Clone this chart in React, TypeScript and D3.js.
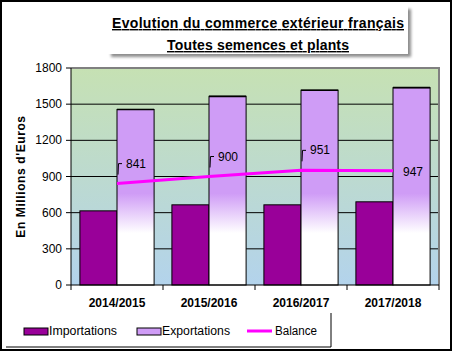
import * as d3 from "d3"

const years = ["2014/2015", "2015/2016", "2016/2017", "2017/2018"]
const importations = [615, 665, 665, 690]
const exportations = [1456, 1565, 1616, 1637]
const balance = [841, 900, 951, 947]
const yTicks = [0, 300, 600, 900, 1200, 1500, 1800]
const titleLines = ["Evolution du commerce extérieur français", "Toutes semences et plants"]
const legendItems = ["Importations", "Exportations", "Balance"]

const W = 454
const H = 353
const font = "'Liberation Sans', Arial, sans-serif"

const App = () => {
  const left = 71
  const right = 439
  const top = 68
  const bottom = 285

  const x = d3.scaleBand().domain(years).range([left, right]).padding(0)
  const sub = d3
    .scaleBand()
    .domain(["imp", "exp"])
    .range([0, x.bandwidth()])
    .paddingInner(0)
    .paddingOuter(0.24)
  const y = d3.scaleLinear().domain([0, 1800]).range([bottom, top])

  const cx = (d: string) => (x(d) as number) + x.bandwidth() / 2
  const line = d3
    .line<number>()
    .x((_, i) => cx(years[i]))
    .y((d) => y(d))

  // exports fade: purple on top, white lower down (plot coordinates)
  const fadeStart = (y(760) - top) / (bottom - top)
  const fadeEnd = (y(430) - top) / (bottom - top)

  return (
    <svg
      width={W}
      height={H}
      style={{ position: "absolute", left: 0, top: 0, background: "#fff" }}
      fontFamily={font}
    >
      <defs>
        <linearGradient id="bg" x1="0" y1="0" x2="0" y2="1">
          <stop offset="0" stopColor="#c6e1b3" />
          <stop offset="1" stopColor="#b3d3ec" />
        </linearGradient>
        <linearGradient id="exp" gradientUnits="userSpaceOnUse" x1="0" y1={top} x2="0" y2={bottom}>
          <stop offset="0" stopColor="#cf9cf6" />
          <stop offset={fadeStart} stopColor="#cf9cf6" />
          <stop offset={fadeEnd} stopColor="#ffffff" />
          <stop offset="1" stopColor="#ffffff" />
        </linearGradient>
        <filter id="shadow" x="-10%" y="-20%" width="130%" height="160%">
          <feGaussianBlur in="SourceAlpha" stdDeviation="1.5" />
          <feOffset dx="3" dy="3" />
          <feComponentTransfer>
            <feFuncA type="linear" slope="0.45" />
          </feComponentTransfer>
          <feMerge>
            <feMergeNode />
            <feMergeNode in="SourceGraphic" />
          </feMerge>
        </filter>
      </defs>

      <rect x={1} y={1} width={450} height={349} fill="#fff" stroke="#000" strokeWidth={2} />

      {/* title */}
      <rect x={108} y={6} width={300} height={48} fill="#fff" filter="url(#shadow)" />
      {titleLines.map((t, i) => (
        <text
          key={t}
          x={258}
          y={28 + i * 22}
          textAnchor="middle"
          fontSize={14}
          fontWeight="bold"
          textDecoration="underline"
          textLength={i === 0 ? 292 : 182}
          lengthAdjust="spacing"
        >
          {t}
        </text>
      ))}

      {/* plot area */}
      <rect x={left} y={top} width={right - left} height={bottom - top} fill="url(#bg)" />
      {yTicks.slice(1, -1).map((t) => (
        <line key={t} x1={left} x2={right} y1={y(t)} y2={y(t)} stroke="#000" strokeWidth={1} />
      ))}
      <path
        d={`M${left},${top}H${right}V${bottom}`}
        fill="none"
        stroke="#808080"
        strokeWidth={2}
      />

      {years.map((yr, i) => (
        <g key={yr} transform={`translate(${x(yr)},0)`}>
          <rect
            x={sub("imp")}
            y={y(importations[i])}
            width={sub.bandwidth()}
            height={bottom - y(importations[i])}
            fill="#990099"
            stroke="#000"
            strokeWidth={1}
          />
          <rect
            x={sub("exp")}
            y={y(exportations[i])}
            width={sub.bandwidth()}
            height={bottom - y(exportations[i])}
            fill="url(#exp)"
            stroke="#000"
            strokeWidth={1}
          />
          <line
            x1={sub("exp")}
            x2={(sub("exp") as number) + sub.bandwidth()}
            y1={y(exportations[i])}
            y2={y(exportations[i])}
            stroke="#000"
            strokeWidth={1.6}
          />
        </g>
      ))}

      <path d={line(balance) ?? ""} fill="none" stroke="#ff00ff" strokeWidth={3} />

      {balance.map((v, i) => {
        const px = cx(years[i])
        const py = y(v)
        const last = i === balance.length - 1
        if (last) {
          return (
            <text key={i} x={px + 10} y={py + 5} fontSize={12}>
              {v}
            </text>
          )
        }
        return (
          <g key={i}>
            <path
              d={`M${px + 1},${py - 9}L${px + 1.5},${py - 20}H${px + 5}`}
              fill="none"
              stroke="#000"
              strokeWidth={1}
            />
            <text x={px + 9} y={py - 16} fontSize={12}>
              {v}
            </text>
          </g>
        )
      })}

      {/* y axis */}
      <line x1={left} x2={left} y1={top} y2={bottom} stroke="#000" strokeWidth={1} />
      {yTicks.map((t) => (
        <g key={t}>
          <line x1={left - 5} x2={left} y1={y(t)} y2={y(t)} stroke="#000" />
          <text x={left - 9} y={y(t) + 4} textAnchor="end" fontSize={12}>
            {t}
          </text>
        </g>
      ))}
      <text
        transform={`translate(25,${(top + bottom) / 2}) rotate(-90)`}
        textAnchor="middle"
        fontSize={12}
        fontWeight="bold"
        letterSpacing={0.6}
      >
        En Millions d'Euros
      </text>

      {/* x axis */}
      <line x1={left} x2={right} y1={bottom} y2={bottom} stroke="#000" strokeWidth={1} />
      {[...years.map((d) => x(d) as number), right].map((xx, i) => (
        <line key={i} x1={xx} x2={xx} y1={bottom} y2={bottom + 5} stroke="#000" />
      ))}
      {years.map((yr) => (
        <text key={yr} x={cx(yr)} y={307} textAnchor="middle" fontSize={12} fontWeight="bold">
          {yr}
        </text>
      ))}

      {/* legend */}
      <path d="M6,347H331V313" fill="none" stroke="#000" strokeWidth={1} />
      <rect x={24} y={328} width={24} height={7} fill="#990099" stroke="#000" strokeWidth={1} />
      <text x={49} y={335} fontSize={12} textLength={68} lengthAdjust="spacingAndGlyphs">
        {legendItems[0]}
      </text>
      <rect x={137} y={328} width={24} height={7} fill="#cf9cf6" stroke="#000" strokeWidth={1} />
      <text x={162} y={335} fontSize={12} textLength={68} lengthAdjust="spacingAndGlyphs">
        {legendItems[1]}
      </text>
      <line x1={247} x2={272} y1={331} y2={331} stroke="#ff00ff" strokeWidth={3} />
      <text x={275} y={335} fontSize={12} textLength={42} lengthAdjust="spacingAndGlyphs">
        {legendItems[2]}
      </text>
    </svg>
  )
}

export default App
